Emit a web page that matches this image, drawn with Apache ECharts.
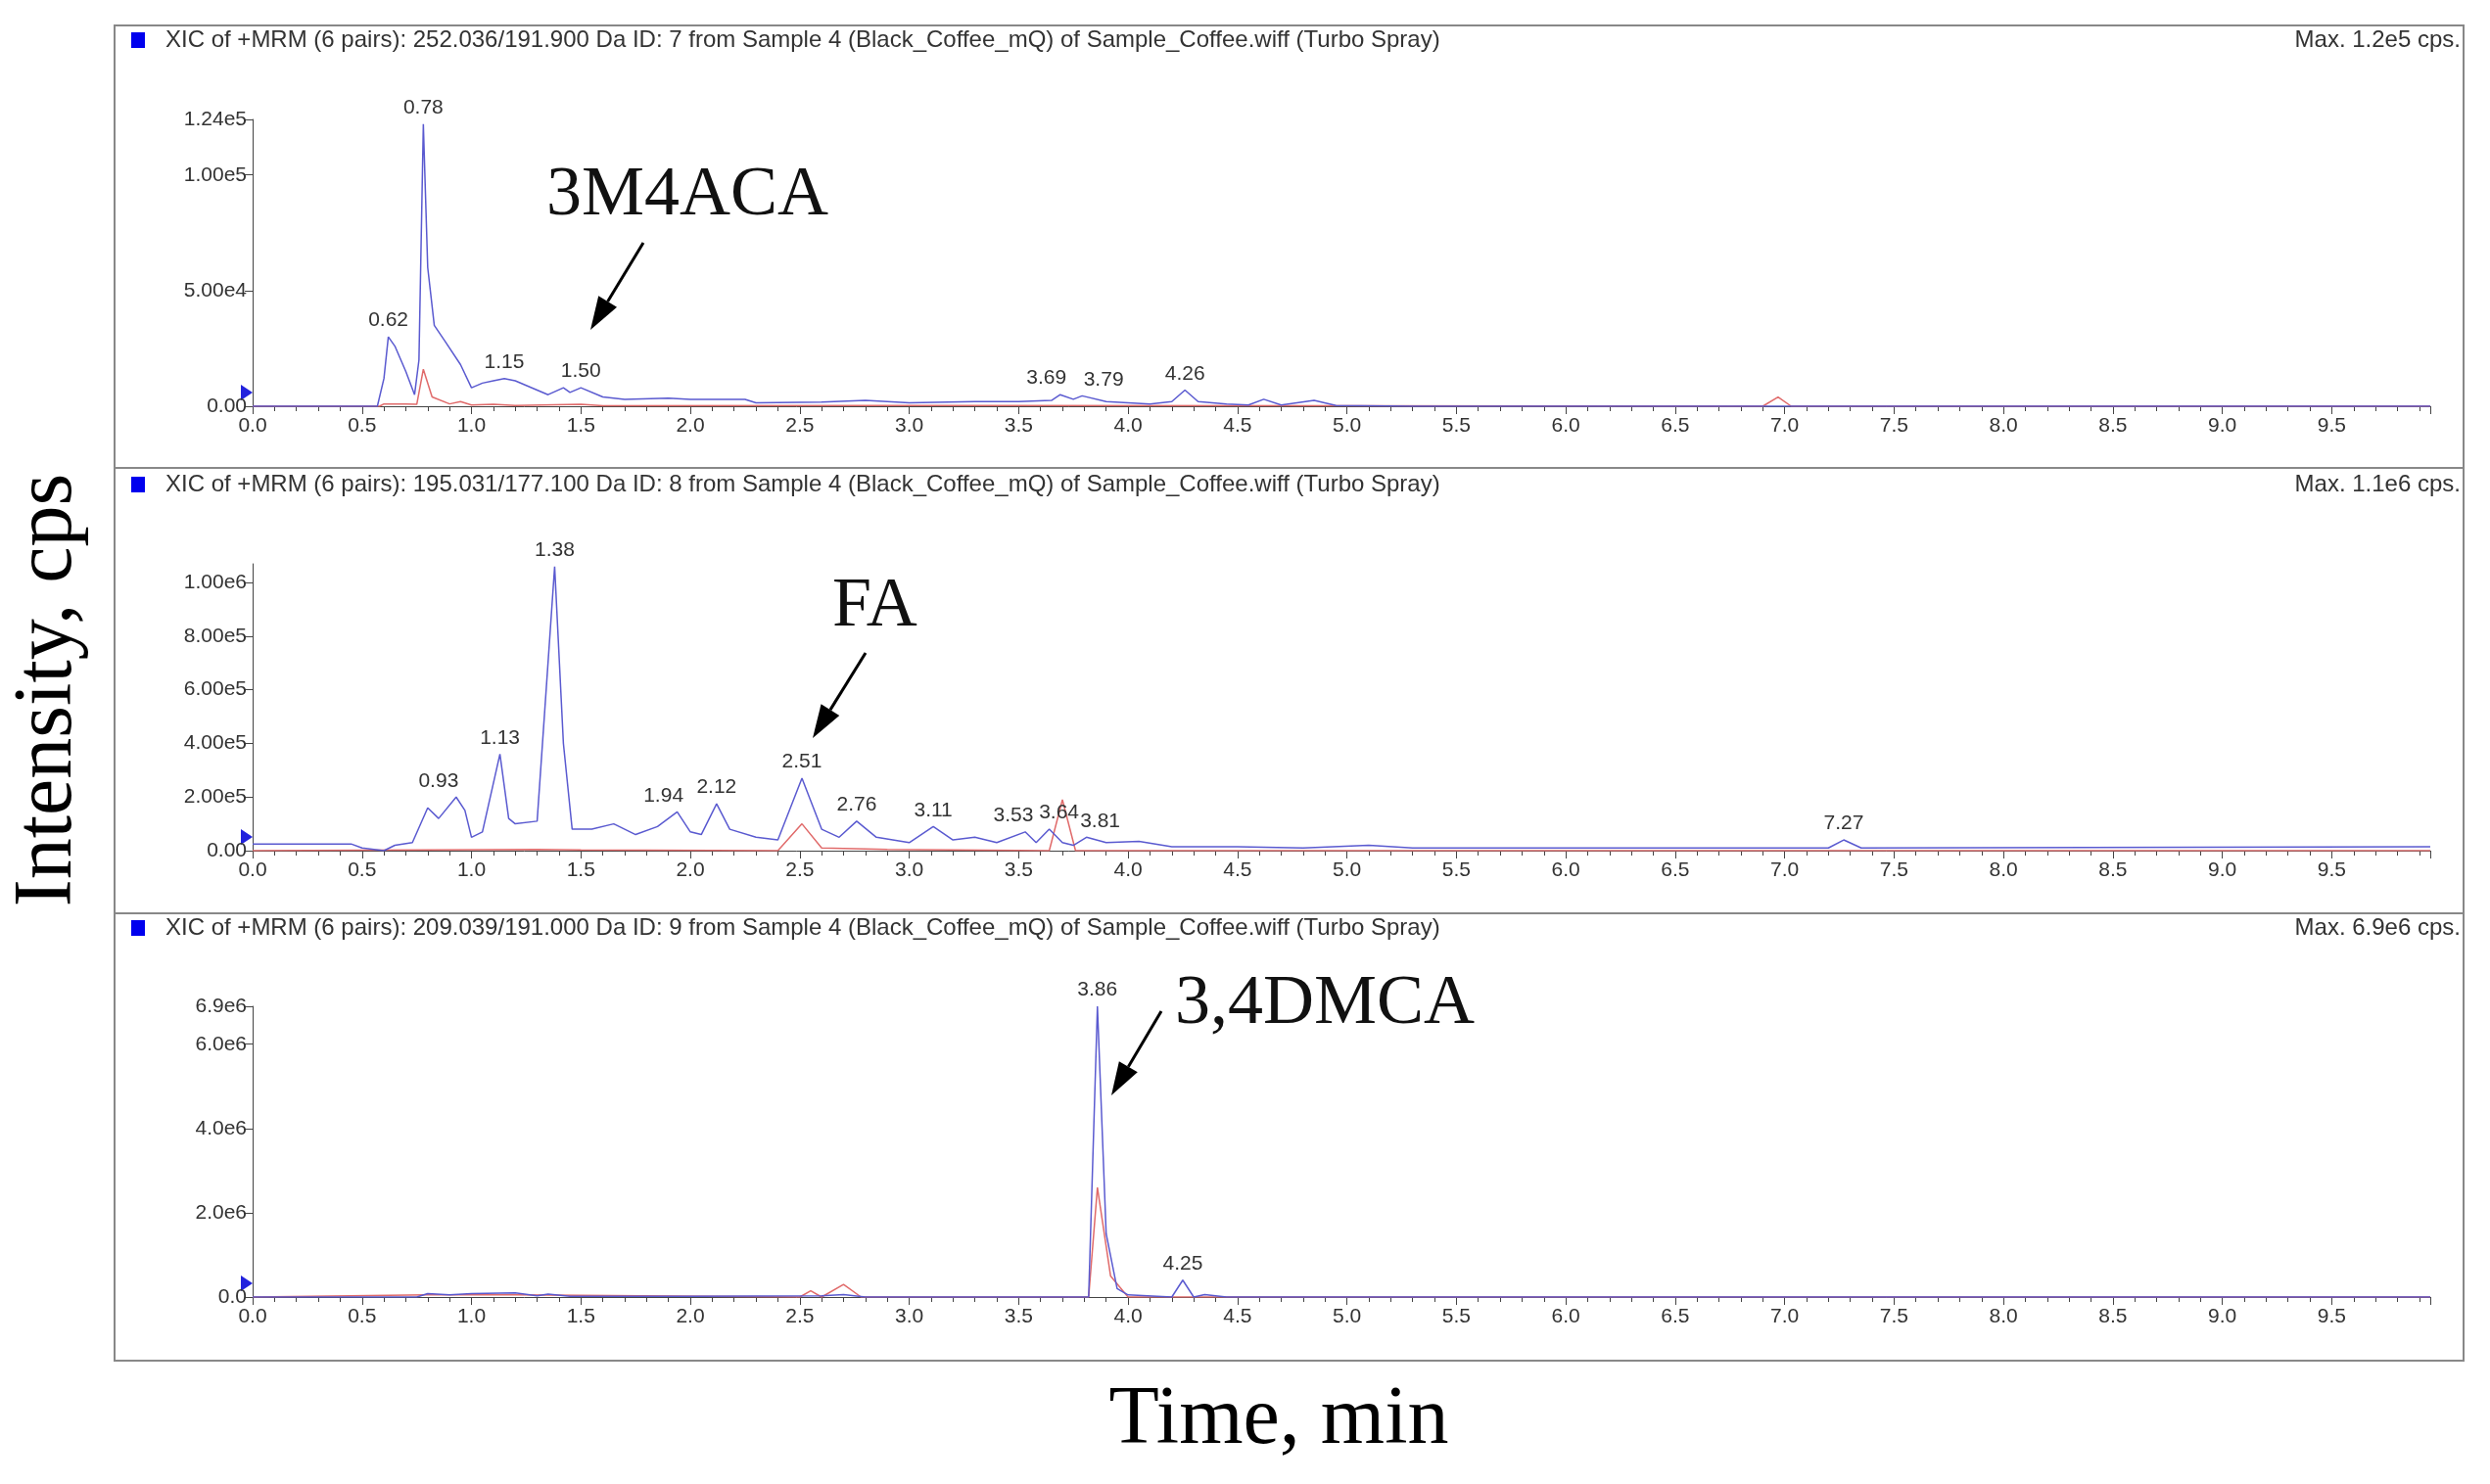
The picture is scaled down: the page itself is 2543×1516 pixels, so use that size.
<!DOCTYPE html>
<html>
<head>
<meta charset="utf-8">
<script src="https://cdn.jsdelivr.net/npm/echarts@6/dist/echarts.min.js"></script>
<style>html,body{margin:0;background:#fff}#main{width:2543px;height:1516px}</style>
</head>
<body>
<div id="main"></div>
<script>
// Panel 1: 252.036/191.900 (3M4ACA)
const blue1 = [[0,0],[0.57,0],[0.6,1.2e4],[0.62,3.0e4],[0.65,2.6e4],[0.7,1.5e4],[0.74,5e3],[0.76,2e4],[0.78,1.22e5],[0.8,6e4],[0.83,3.5e4],[0.88,2.8e4],[0.95,1.8e4],[1.0,8e3],[1.05,1.0e4],[1.1,1.1e4],[1.15,1.2e4],[1.2,1.1e4],[1.3,7e3],[1.35,5e3],[1.42,8e3],[1.45,6e3],[1.5,8e3],[1.6,4e3],[1.7,3e3],[1.9,3.5e3],[2.0,3e3],[2.25,3e3],[2.3,1.5e3],[2.6,1.8e3],[2.8,2.5e3],[3.0,1.5e3],[3.3,2e3],[3.5,2e3],[3.65,2.5e3],[3.69,5e3],[3.75,3e3],[3.79,4.5e3],[3.9,2e3],[4.1,1e3],[4.2,2e3],[4.26,7e3],[4.32,2e3],[4.45,1e3],[4.55,500],[4.62,3e3],[4.7,500],[4.85,2.5e3],[4.95,300],[5.3,0],[9.95,0]];
const red1 = [[0,0],[0.58,0],[0.6,1e3],[0.7,1e3],[0.75,800],[0.78,1.6e4],[0.82,4e3],[0.9,1e3],[0.95,2e3],[1.0,500],[1.1,800],[1.2,300],[1.5,800],[1.6,200],[3.0,300],[5.0,200],[6.9,0],[6.97,4e3],[7.03,0],[9.95,0]];
const peaks1 = [[0.62,3.0e4],[0.78,1.22e5],[1.15,1.2e4],[1.50,8e3],[3.69,5e3],[3.79,4.5e3],[4.26,7e3]];
const yTicks1 = [0, 5e4, 1e5, 1.24e5];
const yLabels1 = ['0.00', '5.00e4', '1.00e5', '1.24e5'];

// Panel 2: 195.031/177.100 (FA)
const blue2 = [[0,2.5e4],[0.45,2.5e4],[0.5,1e4],[0.6,0],[0.65,2e4],[0.73,3e4],[0.8,1.6e5],[0.85,1.2e5],[0.93,2e5],[0.97,1.5e5],[1.0,5e4],[1.05,7e4],[1.13,3.6e5],[1.17,1.2e5],[1.2,1e5],[1.3,1.1e5],[1.38,1.06e6],[1.42,4e5],[1.46,8e4],[1.55,8e4],[1.65,1.0e5],[1.75,6e4],[1.85,9e4],[1.94,1.45e5],[2.0,7e4],[2.05,6e4],[2.12,1.75e5],[2.18,8e4],[2.3,5e4],[2.4,4e4],[2.51,2.7e5],[2.6,8e4],[2.68,5e4],[2.76,1.1e5],[2.85,5e4],[3.0,3e4],[3.11,9e4],[3.2,4e4],[3.3,5e4],[3.4,3e4],[3.53,7e4],[3.58,3e4],[3.64,8e4],[3.7,3e4],[3.75,2e4],[3.81,5e4],[3.9,3e4],[4.05,3.5e4],[4.2,1.5e4],[4.5,1.5e4],[4.8,1e4],[5.1,2e4],[5.3,1e4],[7.2,1e4],[7.27,4e4],[7.35,1e4],[9.95,1.5e4]];
const red2 = [[0,0],[1.3,5e3],[1.5,3e3],[2.4,0],[2.51,1e5],[2.6,1e4],[2.9,5e3],[3.64,0],[3.7,1.9e5],[3.76,0],[9.95,0]];
const peaks2 = [[0.93,2e5],[1.13,3.6e5],[1.38,1.06e6],[1.94,1.45e5],[2.12,1.75e5],[2.51,2.7e5],[2.76,1.1e5],[3.11,9e4],[3.53,7e4],[3.64,8e4],[3.81,5e4],[7.27,4e4]];
const yTicks2 = [0, 2e5, 4e5, 6e5, 8e5, 1e6];
const yLabels2 = ['0.00', '2.00e5', '4.00e5', '6.00e5', '8.00e5', '1.00e6'];

// Panel 3: 209.039/191.000 (3,4DMCA)
const blue3 = [[0,0],[0.75,0],[0.8,8e4],[0.9,5e4],[1.0,8e4],[1.2,1e5],[1.3,3e4],[1.35,7e4],[1.45,2e4],[2.0,2e4],[2.6,3e4],[2.7,6e4],[2.8,0],[3.82,0],[3.86,6.9e6],[3.9,1.5e6],[3.95,2e5],[4.0,5e4],[4.2,0],[4.25,4e5],[4.3,0],[4.35,6e4],[4.45,0],[9.95,0]];
const red3 = [[0,0],[0.8,5e4],[1.2,5e4],[2.5,0],[2.55,1.5e5],[2.6,0],[2.7,3e5],[2.78,0],[3.82,0],[3.86,2.6e6],[3.92,5e5],[4.0,0],[9.95,0]];
const peaks3 = [[3.86,6.9e6],[4.25,4e5]];
const yTicks3 = [0, 2e6, 4e6, 6e6, 6.9e6];
const yLabels3 = ['0.0', '2.0e6', '4.0e6', '6.0e6', '6.9e6'];

const titles = [
  'XIC of +MRM (6 pairs): 252.036/191.900 Da ID: 7 from Sample 4 (Black_Coffee_mQ) of Sample_Coffee.wiff (Turbo Spray)',
  'XIC of +MRM (6 pairs): 195.031/177.100 Da ID: 8 from Sample 4 (Black_Coffee_mQ) of Sample_Coffee.wiff (Turbo Spray)',
  'XIC of +MRM (6 pairs): 209.039/191.000 Da ID: 9 from Sample 4 (Black_Coffee_mQ) of Sample_Coffee.wiff (Turbo Spray)'
];
const maxTexts = ['Max. 1.2e5 cps.', 'Max. 1.1e6 cps.', 'Max. 6.9e6 cps.'];
// label nudges (px) for crowded peak labels
const nudges = {'3.69': -14, '3.79': 22, '3.53': -12, '3.64': 10, '3.81': 14, '0.93': -18, '1.94': -14};

const panels = [
  {blue: blue1, red: red1, peaks: peaks1, ticks: yTicks1, labels: yLabels1, max: 1.24e5, top: 122, bottom: 1101, ty: 42},
  {blue: blue2, red: red2, peaks: peaks2, ticks: yTicks2, labels: yLabels2, max: 1.07e6, top: 576, bottom: 647, ty: 496},
  {blue: blue3, red: red3, peaks: peaks3, ticks: yTicks3, labels: yLabels3, max: 6.9e6, top: 1028, bottom: 191, ty: 949}
];

const font = 'Liberation Sans';
let grid = [], xAxis = [], yAxis = [], series = [], graphic = [];

panels.forEach((p, i) => {
  grid.push({left: 258, right: 61, top: p.top, bottom: p.bottom});
  xAxis.push({
    type: 'value', gridIndex: i, min: 0, max: 9.95, interval: 0.5,
    axisLine: {lineStyle: {color: '#444'}},
    axisTick: {length: 8, lineStyle: {color: '#444'}},
    minorTick: {show: true, splitNumber: 5, length: 5, lineStyle: {color: '#444'}},
    splitLine: {show: false},
    axisLabel: {showMaxLabel: false, formatter: v => v.toFixed(1), fontFamily: font, fontSize: 21, color: '#333', margin: 10}
  });
  const lbl = {};
  p.ticks.forEach((t, k) => lbl[t] = p.labels[k]);
  yAxis.push({
    type: 'value', gridIndex: i, min: 0, max: p.max,
    axisLine: {show: true, lineStyle: {color: '#444'}},
    axisTick: {show: true, customValues: p.ticks, length: 8, lineStyle: {color: '#444'}},
    splitLine: {show: false},
    axisLabel: {customValues: p.ticks, formatter: v => lbl[v] !== undefined ? lbl[v] : '', fontFamily: font, fontSize: 21, color: '#333', margin: 6}
  });
  series.push({
    type: 'line', xAxisIndex: i, yAxisIndex: i, data: p.red, symbol: 'none', z: 2,
    lineStyle: {color: '#e06a6a', width: 1.5}
  });
  series.push({
    type: 'line', xAxisIndex: i, yAxisIndex: i, data: p.blue, symbol: 'none', z: 3,
    lineStyle: {color: '#5a5ad0', width: 1.5},
    markPoint: {
      symbol: 'circle', symbolSize: 0,
      label: {show: true, position: 'top', distance: 6, fontFamily: font, fontSize: 21, color: '#333',
        formatter: d => d.data.coord[0].toFixed(2)},
      data: p.peaks.map(c => ({coord: c, label: {offset: [nudges[c[0].toFixed(2)] || 0, 0]}}))
    }
  });
  graphic.push({type: 'rect', left: 134, top: p.ty - 9, shape: {width: 14, height: 16}, style: {fill: '#0000ee'}});
  graphic.push({type: 'text', left: 169, top: p.ty - 13, style: {text: titles[i], font: '24px ' + font, fill: '#333'}});
  graphic.push({type: 'text', right: 30, top: p.ty - 13, style: {text: maxTexts[i], font: '24px ' + font, fill: '#333'}});
  graphic.push({type: 'polygon', shape: {points: [[246, 1516 - p.bottom - 22], [258, 1516 - p.bottom - 14], [246, 1516 - p.bottom - 6]]}, style: {fill: '#2222dd'}});
});

// frame and dividers
graphic.push({type: 'rect', shape: {x: 117, y: 26, width: 2399, height: 1364}, style: {fill: 'none', stroke: '#888', lineWidth: 2}});
graphic.push({type: 'line', shape: {x1: 117, y1: 478, x2: 2516, y2: 478}, style: {stroke: '#888', lineWidth: 2}});
graphic.push({type: 'line', shape: {x1: 117, y1: 933, x2: 2516, y2: 933}, style: {stroke: '#888', lineWidth: 2}});

// annotations with arrows
const serif = '"Liberation Serif", "DejaVu Serif", serif';
function arrow(x1, y1, x2, y2) {
  const a = Math.atan2(y2 - y1, x2 - x1), L = 34, W = 11;
  const bx = x2 - L * Math.cos(a), by = y2 - L * Math.sin(a);
  graphic.push({type: 'line', shape: {x1, y1, x2: bx, y2: by}, style: {stroke: '#000', lineWidth: 3}});
  graphic.push({type: 'polygon', shape: {points: [[x2, y2],
    [bx + W * Math.sin(a), by - W * Math.cos(a)], [bx - W * Math.sin(a), by + W * Math.cos(a)]]}, style: {fill: '#000'}});
}
graphic.push({type: 'text', left: 558, top: 164, style: {text: '3M4ACA', font: '72px ' + serif, fill: '#111'}});
arrow(657, 248, 603, 337);
graphic.push({type: 'text', left: 850, top: 584, style: {text: 'FA', font: '72px ' + serif, fill: '#111'}});
arrow(884, 667, 830, 754);
graphic.push({type: 'text', left: 1200, top: 990, style: {text: '3,4DMCA', font: '72px ' + serif, fill: '#111'}});
arrow(1186, 1033, 1135, 1119);

graphic.push({type: 'text', x: 50, y: 705, rotation: Math.PI / 2, style: {text: 'Intensity, cps', font: '84px ' + serif, fill: '#000', align: 'center', verticalAlign: 'middle'}});
graphic.push({type: 'text', x: 1306, y: 1452, style: {text: 'Time, min', font: '84px ' + serif, fill: '#000', align: 'center', verticalAlign: 'middle'}});

const myChart = echarts.init(document.getElementById('main'));
myChart.setOption({animation: false, grid, xAxis, yAxis, series, graphic});
</script>
</body>
</html>
